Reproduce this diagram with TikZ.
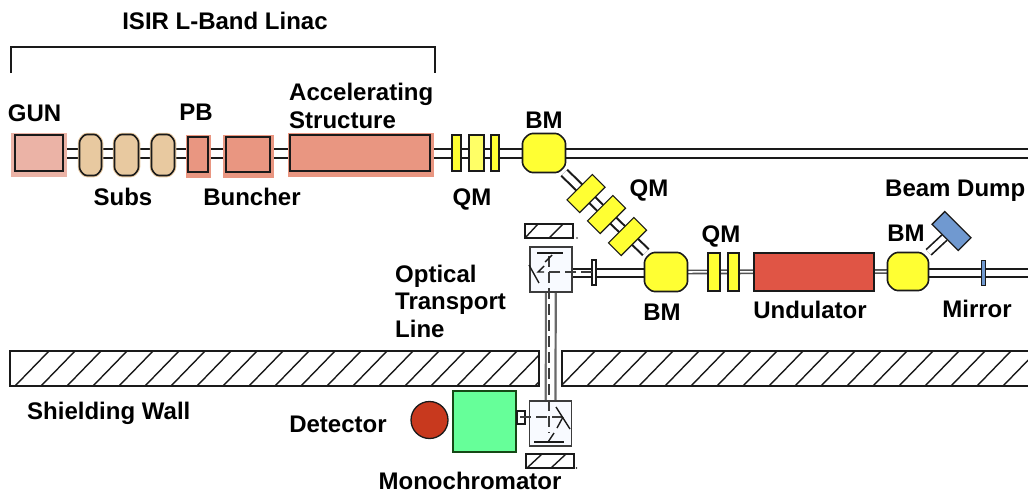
\documentclass[tikz,border=0pt]{standalone}
\usepackage{fontspec}
\setmainfont{Liberation Sans}
\usetikzlibrary{backgrounds}
\definecolor{ink}{HTML}{1A1A1A}
\definecolor{halogun}{HTML}{EBB3A6}
\definecolor{salmon}{HTML}{E99681}
\definecolor{tanbody}{HTML}{E8C9A0}
\definecolor{qyellow}{HTML}{FFFF33}
\definecolor{qlight}{HTML}{FFFF66}
\definecolor{undul}{HTML}{E05545}
\definecolor{dumpblue}{HTML}{7099D0}
\definecolor{boxfill}{HTML}{F8FAFF}
\definecolor{monog}{HTML}{66FF99}
\definecolor{detred}{HTML}{C8391E}
\newcommand{\magnetshape}[8]{%
 \node[inner sep=0pt,rectangle,minimum width=#4pt,minimum height=#5pt] (#1) at (#2,#3) {};
 \draw[#8,shift={(#1.center)}] ({-#4/2+#6},{-#5/2}) -- ({#4/2-#6},{-#5/2}) -- ({#4/2},{-#5/2+#7}) -- ({#4/2},{#5/2-#7}) -- ({#4/2-#6},{#5/2}) -- ({-#4/2+#6},{#5/2}) -- ({-#4/2},{#5/2-#7}) -- ({-#4/2},{-#5/2+#7}) -- cycle;
}
\tikzset{
 x=1pt,y=-1pt,
 lbl/.style={font=\fontsize{24}{28}\selectfont\bfseries,inner sep=0pt,anchor=base,text=black},
 lbll/.style={lbl,anchor=base west},
 solid box/.style={draw=ink,line width=1.6pt,inner sep=0pt,rectangle},
 halo/.style={fill=#1,draw=none,inner sep=0pt,rectangle},
 accel/.style={solid box,fill=#1},
 subcav/.style={draw=ink,line width=1.6pt,fill=tanbody,rounded corners=2.5pt,preaction={draw=tanbody,line width=3.5pt}},
 bendmag/.style={draw=ink,line width=1.6pt,fill=qyellow,rounded corners=3pt},
 quadmag/.style={draw=ink,line width=1.1pt,fill=qyellow,inner sep=0pt,rectangle},
 pipe/.style={draw=ink,line width=2.1pt,double=white,double distance=6.9pt},
 thinpipe/.style={draw=ink!75,line width=1.6pt,double=white,double distance=1.6pt},
 wallbox/.style={draw=ink,line width=1.6pt,inner sep=0pt,rectangle,fill=white},
 hatchline/.style={draw=ink,line width=1.4pt},
 beamdash/.style={draw=ink!85,line width=1.4pt,dash pattern=on 11pt off 5pt},
 mirrorline/.style={draw=ink,line width=1.4pt},
 optbox/.style={draw=ink!85,line width=1.6pt,fill=boxfill,inner sep=0pt,rectangle,minimum width=42pt,minimum height=45pt},
}
\begin{document}
\begin{tikzpicture}
\useasboundingbox (0,0) rectangle (1028,490);
% halos
\node[halo=halogun,minimum width=56pt,minimum height=44pt] (gunh) at (39,155) {};
\node[halo=salmon,minimum width=25pt,minimum height=43pt] (pbh) at (198.5,156.5) {};
\node[halo=salmon,minimum width=51pt,minimum height=43pt] (bunh) at (248.5,156.5) {};
\node[halo=salmon,minimum width=146pt,minimum height=44pt] (acch) at (361,155) {};
% linac
\node[accel=halogun,minimum width=48pt,minimum height=36pt] (gun) at (39,153) {};
\magnetshape{s1}{90.5}{155}{22}{41}{5}{6}{subcav}
\magnetshape{s2}{126.5}{155}{24}{41}{5}{6}{subcav}
\magnetshape{s3}{163}{155}{23}{41}{5}{6}{subcav}
\node[accel=salmon,minimum width=20pt,minimum height=35pt] (pb) at (198,154.5) {};
\node[accel=salmon,minimum width=44pt,minimum height=35pt] (bun) at (248,154.5) {};
\node[accel=salmon,minimum width=140pt,minimum height=36pt] (acc) at (360,153) {};
\node[quadmag,minimum width=9pt,minimum height=36pt] (q1) at (456.5,153) {};
\node[quadmag,fill=qlight,minimum width=15pt,minimum height=36pt] (q2) at (476.5,153) {};
\node[quadmag,minimum width=8pt,minimum height=36pt] (q3) at (495,153) {};
\magnetshape{bm1}{544}{153}{43}{39}{7}{7}{bendmag}
\coordinate (topend) at (1028,153.5);
% dogleg
\magnetshape{bm2}{666}{272}{43}{39}{7}{7}{bendmag}
\node[quadmag,rotate=45,minimum width=36pt,minimum height=18pt] (dq1) at (586,193.5) {};
\node[quadmag,rotate=45,minimum width=36pt,minimum height=18pt] (dq2) at (606.5,214.5) {};
\node[quadmag,rotate=45,minimum width=36pt,minimum height=18pt] (dq3) at (627.5,236.5) {};
% undulator line
\node[quadmag,minimum width=12pt,minimum height=38pt] (q4) at (714,272) {};
\node[quadmag,minimum width=11pt,minimum height=38pt] (q5) at (733.5,272) {};
\node[draw=ink,line width=1.3pt,fill=undul,inner sep=0pt,rectangle,minimum width=120pt,minimum height=38pt] (und) at (814,272) {};
\magnetshape{bm3}{908}{271.5}{41}{38}{7}{7}{bendmag}
\node[draw=ink,line width=1.3pt,fill=dumpblue,inner sep=0pt,rectangle,rotate=-45,minimum width=37pt,minimum height=18pt] (dump) at (951.5,231) {};
\node[draw=ink,line width=1pt,fill=dumpblue,inner sep=0pt,rectangle,minimum width=4pt,minimum height=25pt] (mirror) at (983,272.5) {};
\coordinate (rightend) at (1028,273);
% optical line
\node[optbox] (obox) at (551,269.5) {};
\node[optbox] (lbox) at (550.5,423.5) {};
\node[draw=ink,line width=1.1pt,fill=white,inner sep=0pt,rectangle,minimum width=4pt,minimum height=25pt] (win) at (594,272.5) {};
% walls
\node[wallbox,minimum width=529pt,minimum height=35pt] (wallL) at (274.5,368.5) {};
\node[wallbox,minimum width=468pt,minimum height=35pt] (wallR) at (796,368.5) {};
\begin{scope}
\clip (wallL.south west) rectangle (wallL.north east);
\foreach \k in {0,...,20} \draw[hatchline] (15+26*\k,386) -- ++(34,-35);
\end{scope}
\begin{scope}
\clip (wallR.south west) rectangle (wallR.north east);
\foreach \k in {21,...,39} \draw[hatchline] (15+26*\k,386) -- ++(34,-35);
\end{scope}
% mirrors' backing plates
\node[wallbox,minimum width=48pt,minimum height=14pt] (hatchT) at (549,231) {};
\draw[hatchline] (525,238) -- (538,224) (549,238) -- (563,224);
\node[wallbox,minimum width=48pt,minimum height=14pt] (hatchB) at (550,461) {};
\draw[hatchline] (527,468) -- (542,454) (551,468) -- (566,454);
\fill[ink] (577,238) circle (0.8pt) (576.5,468) circle (0.8pt);
% monochromator and detector
\node[draw=ink!80!green,line width=1.5pt,fill=monog,inner sep=0pt,rectangle,minimum width=63pt,minimum height=61pt] (mono) at (484.5,421.5) {};
\node[draw=ink,line width=1.3pt,fill=detred,circle,inner sep=0pt,minimum size=37pt] (det) at (429.5,420) {};
\node[draw=ink,line width=1.3pt,fill=white,inner sep=0pt,rectangle,minimum width=8pt,minimum height=13pt] (slit) at (521,417.5) {};
% pipes
\begin{scope}[on background layer]
\draw[pipe] (gun.center |- topend) -- (topend);
\draw[pipe,double distance=6.2pt] (bm1) -- (bm2);
\draw[thinpipe] (bm2) -- (bm3);
\draw[pipe,line width=1.7pt] (bm3 |- rightend) -- (rightend);
\draw[pipe,line width=1.7pt,double distance=5.5pt] (bm3) -- (dump);
\draw[pipe,line width=1.7pt] (obox.center |- rightend) -- (bm2 |- rightend);
\draw[draw=ink!65,line width=2.2pt,double=white,double distance=7.5pt] (obox) -- (lbox);
\end{scope}
% optics inside boxes
\draw[beamdash] (549,256) -- (549,433);
\draw[beamdash] (592,272) -- (548,272);
\draw[beamdash] (520,417) -- (565,417);
\draw[mirrorline] (537,253) -- (563,253);
\draw[mirrorline] (529,265) -- (539,283);
\draw[mirrorline] (552,255) -- (545,262);
\draw[mirrorline] (544,266) -- (538,272) -- (544,272);
\draw[mirrorline] (556,407) -- (570,429);
\draw[mirrorline] (534,442) -- (564,442);
\draw[mirrorline] (554,433) -- (548,442);
\draw[mirrorline] (563,417) -- (557,428);
% bracket
\coordinate (brL) at (11,73);
\coordinate (brR) at (435,73);
\draw[ink,line width=1.1pt] (brL) -- (11,47) -- (435,47) -- (brR);
% labels
\node[lbl] (t1) at (225,29) {ISIR L-Band Linac};
\node[lbl] (t2) at (34.5,121) {GUN};
\node[lbl] (t3) at (196,120) {PB};
\node[lbll] (t4) at (289,100) {Accelerating};
\node[lbll] (t5) at (289,128) {Structure};
\node[lbl] (t6) at (123,205) {Subs};
\node[lbl] (t7) at (252,205) {Buncher};
\node[lbl] (t8) at (472,205) {QM};
\node[lbl] (t9) at (544,128) {BM};
\node[lbl] (t10) at (649,196) {QM};
\node[lbl] (t11) at (721,242) {QM};
\node[lbll] (t12) at (885,196) {Beam Dump};
\node[lbl] (t13) at (906,241) {BM};
\node[lbl] (t14) at (662,320) {BM};
\node[lbl] (t15) at (810,318) {Undulator};
\node[lbl] (t16) at (977,317) {Mirror};
\node[lbll] (t17) at (395,282) {Optical};
\node[lbll] (t18) at (395,309) {Transport};
\node[lbll] (t19) at (395,337) {Line};
\node[lbll] (t20) at (27,419) {Shielding Wall};
\node[lbl] (t21) at (338,432) {Detector};
\node[lbl] (t22) at (470,489) {Monochromator};
\end{tikzpicture}
\end{document}
